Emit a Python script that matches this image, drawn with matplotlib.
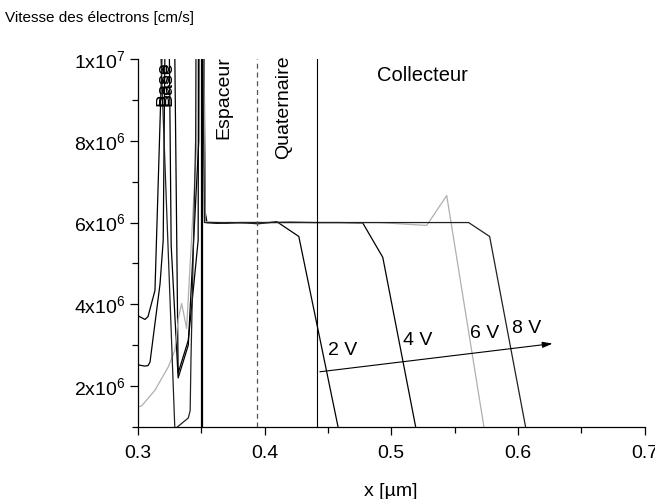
import matplotlib
matplotlib.use('Agg')
import matplotlib.pyplot as plt

plt.rcParams['font.family'] = ['Liberation Sans', 'DejaVu Sans']
plt.rcParams['mathtext.fontset'] = 'custom'
plt.rcParams['mathtext.rm'] = 'Liberation Sans'
plt.rcParams['mathtext.it'] = 'Liberation Sans'
plt.rcParams['mathtext.default'] = 'rm'

# ---- data (x in µm, velocity in 1e6 cm/s) ----
x_2V = [0.300, 0.3055, 0.3079, 0.3134, 0.3189, 0.3225, 0.3291, 0.3317, 0.3397, 0.3475, 0.3492, 0.3510, 0.3528, 0.3545,
        0.357, 0.364, 0.372, 0.385, 0.395, 0.4097, 0.427, 0.458, 0.461]
v_2V = [3.72, 3.63, 3.70, 4.34, 10.0, 25.0, 10.0, 2.32, 3.12, 5.56, 30.0, 15.0, 6.3, 6.0,
        6.0, 5.98, 6.0, 5.99, 5.97, 6.02, 5.66, 1.0, 0.6]

x_4V = [0.300, 0.3053, 0.3079, 0.3095, 0.3174, 0.3199, 0.3212, 0.3230, 0.3248, 0.3262, 0.3317, 0.3397, 0.3480, 0.3496,
        0.3515, 0.3530, 0.354, 0.36, 0.37, 0.38, 0.40, 0.42, 0.44, 0.46, 0.4775, 0.4933, 0.5193, 0.522]
v_4V = [2.52, 2.49, 2.50, 2.59, 4.5, 5.56, 10.0, 30.0, 10.0, 5.44, 2.2, 3.0, 8.0, 32.0,
        14.0, 6.2, 6.0, 5.99, 5.98, 6.0, 6.0, 6.01, 6.0, 6.0, 5.99, 5.15, 1.0, 0.6]

x_6V = [0.300, 0.303, 0.3134, 0.3239, 0.3292, 0.3318, 0.3345, 0.3384, 0.3465, 0.3495, 0.3515, 0.3530, 0.354,
        0.365, 0.38, 0.40, 0.43, 0.46, 0.49, 0.528, 0.5438, 0.5732, 0.576]
v_6V = [1.49, 1.52, 1.90, 2.47, 2.88, 3.65, 4.02, 3.41, 8.0, 30.0, 12.0, 6.0, 6.02,
        6.0, 6.0, 6.0, 6.0, 6.0, 6.0, 5.93, 6.66, 1.0, 0.6]

x_8V = [0.300, 0.3160, 0.3182, 0.3291, 0.3397, 0.3412, 0.3418, 0.3455, 0.3486, 0.3505, 0.3525, 0.354,
        0.37, 0.40, 0.45, 0.50, 0.5611, 0.5777, 0.6061, 0.609]
v_8V = [30.0, 28.0, 10.0, 0.95, 1.22, 1.4, 2.6, 8.0, 35.0, 12.0, 6.0, 6.0,
        6.0, 6.0, 6.0, 6.0, 6.0, 5.66, 1.0, 0.6]

curve_labels = ['2 V', '4 V', '6 V', '8 V']
label_x = [0.4617, 0.5209, 0.5738, 0.6069]
label_v = [2.88, 3.12, 3.29, 3.41]

arrow_start = (0.4436, 2.35)
arrow_end = (0.6274, 3.04)

x_base_edge = 0.3503
x_spacer_edge = 0.3943
x_quat_edge = 0.4415

region_names = ['Base', 'Espaceur', 'Quaternaire', 'Collecteur']

x_ticks = [0.3, 0.4, 0.5, 0.6, 0.7]
x_tick_labels = ['0.3', '0.4', '0.5', '0.6', '0.7']
x_minor = [0.35, 0.45, 0.55, 0.65]
y_ticks = [2, 4, 6, 8, 10]
y_tick_labels = [r'2x10$^{6}$', r'4x10$^{6}$', r'6x10$^{6}$', r'8x10$^{6}$', r'1x10$^{7}$']
y_minor = [1, 3, 5, 7, 9]

S = 1e6
FS = 14

fig = plt.figure(figsize=(6.55, 4.99), dpi=100)
ax = fig.add_axes([138/655, 1-427/499, (644.5-138)/655, (427-59)/499])

ax.plot(x_2V, [v*S for v in v_2V], color='black', lw=0.9)
ax.plot(x_4V, [v*S for v in v_4V], color='black', lw=0.9)
ax.plot(x_6V, [v*S for v in v_6V], color='#b0b0b0', lw=0.9)
ax.plot(x_8V, [v*S for v in v_8V], color='#202020', lw=0.9)

ax.axvline(x_base_edge, color='black', lw=1.6)
ax.axvline(x_spacer_edge, color='#555555', lw=0.9, ls=(0, (4, 3)))
ax.axvline(x_quat_edge, color='black', lw=0.8)

ax.annotate('', xy=(arrow_end[0], arrow_end[1]*S), xytext=(arrow_start[0], arrow_start[1]*S),
            arrowprops=dict(arrowstyle='-|>,head_length=0.6,head_width=0.18', color='black', lw=0.8,
                            shrinkA=0, shrinkB=0))
for t, xx, vv in zip(curve_labels, label_x, label_v):
    ax.text(xx, vv*S, t, fontsize=FS, ha='center', va='center')

ax.text(0.3208, 9.95*S, region_names[0], rotation=90, fontsize=FS, ha='center', va='top')
ax.text(0.3226, 9.95*S, region_names[0], rotation=90, fontsize=FS, ha='center', va='top')
ax.text(0.3679, 10.07*S, region_names[1], rotation=90, fontsize=FS, ha='center', va='top', clip_on=False)
ax.text(0.4152, 10.1*S, region_names[2], rotation=90, fontsize=FS, ha='center', va='top', clip_on=False)
ax.text(0.5249, 9.6*S, region_names[3], fontsize=14.5, ha='center', va='center')

ax.set_xlim(0.3, 0.7)
ax.set_ylim(1*S, 10*S)
ax.set_xticks(x_ticks)
ax.set_xticklabels(x_tick_labels)
ax.set_xticks(x_minor, minor=True)
ax.set_yticks([v*S for v in y_ticks])
ax.set_yticklabels(y_tick_labels)
ax.set_yticks([v*S for v in y_minor], minor=True)
ax.tick_params(axis='both', which='major', direction='out', length=6, width=0.9, labelsize=FS, pad=3)
ax.tick_params(axis='x', which='major', pad=7)
ax.tick_params(axis='both', which='minor', direction='out', length=4, width=0.9)
for s in ['top', 'right']:
    ax.spines[s].set_visible(False)
for s in ['left', 'bottom']:
    ax.spines[s].set_linewidth(0.9)

fig.text(5/655, 1-18/499, 'Vitesse des électrons [cm/s]', fontsize=11, ha='left', va='center')
fig.text(391/655, 1-491/499, 'x [µm]', fontsize=FS, ha='center', va='center')

fig.savefig('out.png', dpi=100)
